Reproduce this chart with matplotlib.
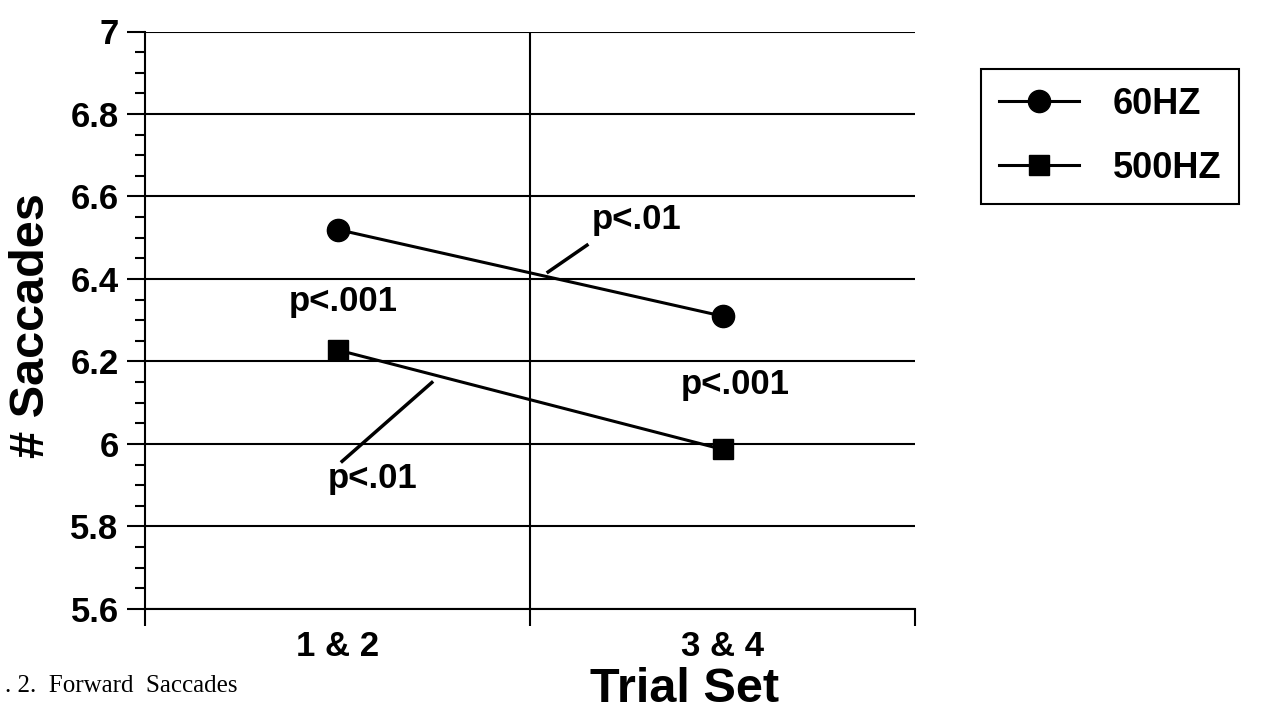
import matplotlib
matplotlib.use('Agg')
from matplotlib import pyplot as plt
from matplotlib.ticker import MultipleLocator, FixedLocator, FuncFormatter

# Данные
trial_sets = ['1 & 2', '3 & 4']
saccades_60hz = [6.52, 6.31]
saccades_500hz = [6.228, 5.987]

# Подписи значимости: текст, позиция, выноска
p_labels = ['p<.01', 'p<.001', 'p<.001', 'p<.01']
p_label_pos = [(1.278, 6.521), (0.514, 6.322), (1.532, 6.122), (0.590, 5.893)]
p_leaders = [((1.047, 1.148), (6.417, 6.482)), None, None,
             ((0.745, 0.512), (6.149, 5.958))]

plt.rcParams['font.family'] = ['Liberation Sans', 'DejaVu Sans']
plt.rcParams['font.weight'] = 'bold'

W, H = 1267, 713
fig = plt.figure(figsize=(W / 100, H / 100), dpi=100)
ax = fig.add_axes([145 / W, 1 - 609 / H, 770 / W, (609 - 31.5) / H])

x = [i + 0.5 for i in range(len(trial_sets))]

# Сетка
ax.set_axisbelow(True)
ax.yaxis.grid(True, color='black', linewidth=1.5)
ax.axvline(1, color='black', linewidth=1.5, zorder=0.5)

# Линии данных
ax.plot(x, saccades_60hz, color='black', linewidth=2.2, marker='o', markersize=16,
        label='60HZ', clip_on=False)
ax.plot(x, saccades_500hz, color='black', linewidth=2.2, marker='s', markersize=15,
        label='500HZ', clip_on=False)

# Подписи p
for text, pos, leader in zip(p_labels, p_label_pos, p_leaders):
    ax.text(pos[0], pos[1], text, ha='center', va='baseline', fontsize=25, fontweight='bold')
    if leader is not None:
        ax.plot(leader[0], leader[1], color='black', linewidth=2.5)

# Оси
ax.set_xlim(0, 2)
ax.set_ylim(5.6, 7)
for side in ['top', 'right']:
    ax.spines[side].set_visible(False)
for side in ['left', 'bottom']:
    ax.spines[side].set_linewidth(1.5)

ax.yaxis.set_major_locator(MultipleLocator(0.2))
ax.yaxis.set_minor_locator(MultipleLocator(0.05))
ax.yaxis.set_major_formatter(FuncFormatter(lambda v, p: '%g' % round(v, 2)))
ax.tick_params(axis='y', which='major', length=13, width=1.5, pad=6, labelsize=25)
ax.tick_params(axis='y', which='minor', length=7, width=1.5)

ax.xaxis.set_major_locator(FixedLocator([0, 1, 2]))
ax.xaxis.set_major_formatter(FuncFormatter(lambda v, p: ''))
ax.set_xticks(x, trial_sets, minor=True)
ax.tick_params(axis='x', which='major', length=12, width=1.5)
ax.tick_params(axis='x', which='minor', length=0, pad=15, labelsize=25)

ax.set_ylabel('# Saccades', fontsize=35, fontweight='bold')
ax.yaxis.set_label_coords(-0.118, 0.49)

fig.text(685 / W, 1 - 689 / H, 'Trial Set', ha='center', va='center',
         fontsize=35, fontweight='bold')
fig.text(0.004, 1 - 686 / H, '. 2.  Forward  Saccades', ha='left', va='center',
         fontsize=18, family='Liberation Serif', fontweight='normal')

# Легенда
leg = ax.legend(loc='upper left', bbox_to_anchor=(981 / W, 1 - 69 / H),
                bbox_transform=fig.transFigure, frameon=True, fancybox=False,
                edgecolor='black', framealpha=1, handlelength=2.2, handletextpad=0.95,
                labelspacing=0.8, borderpad=0.5, borderaxespad=0,
                prop={'size': 26, 'weight': 'bold'})
leg.get_frame().set_linewidth(1.5)

fig.savefig('out.png', dpi=100)
